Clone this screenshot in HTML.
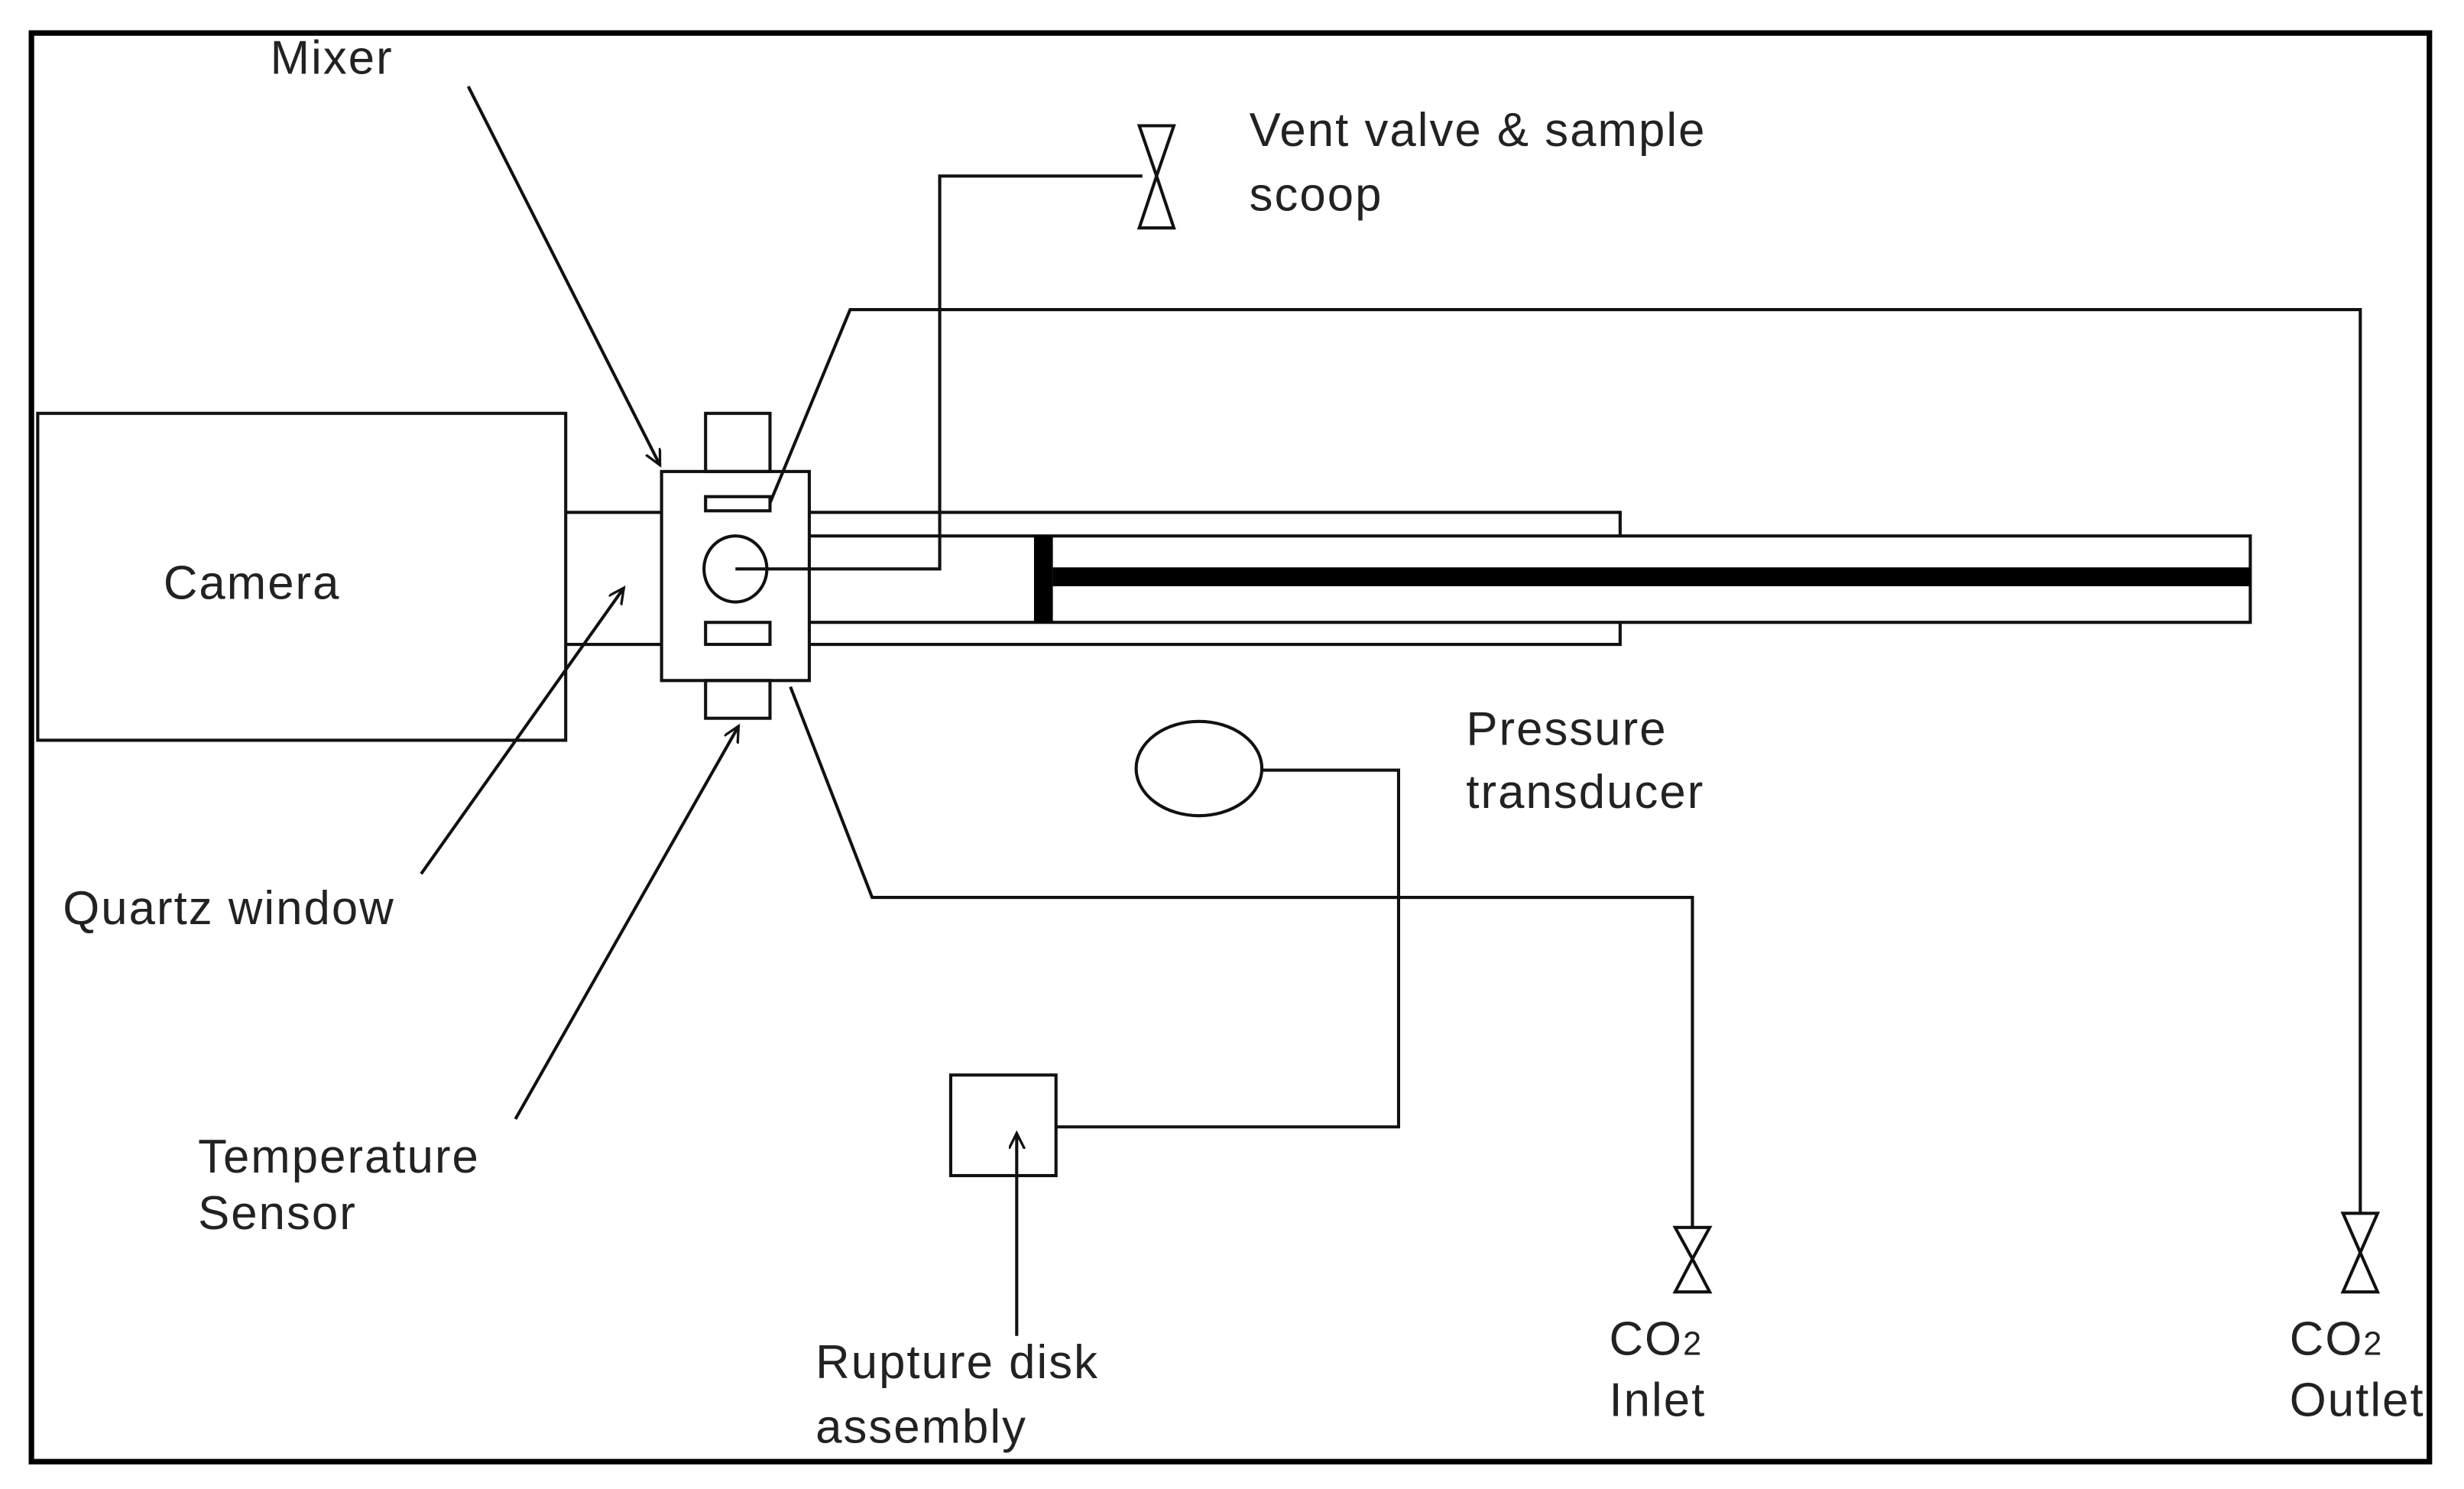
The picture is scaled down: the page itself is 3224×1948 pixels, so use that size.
<!DOCTYPE html>
<html><head><meta charset="utf-8"><style>
html,body{margin:0;padding:0;background:#fff;}
svg{display:block;}
text{font-family:"Liberation Sans",Arial,sans-serif;font-size:30px;letter-spacing:1px;fill:#222;}
</style></head><body>
<svg width="3224" height="1948" viewBox="0 0 1568 947.4" xmlns="http://www.w3.org/2000/svg">
<defs>
<marker id="ah" markerWidth="12" markerHeight="12" refX="10" refY="5" orient="auto" markerUnits="userSpaceOnUse">
<path d="M0,0 L10,5 L0,10" fill="none" stroke="#111" stroke-width="1.6"/>
</marker>
</defs>
<rect x="0" y="0" width="1568" height="947.4" fill="#fff"/>
<rect x="20" y="21" width="1526" height="909" fill="none" stroke="#000" stroke-width="3.5"/>
<g fill="none" stroke="#111" stroke-width="2">
<rect x="24" y="263" width="336" height="208"/>
<line x1="360" y1="326" x2="421" y2="326"/>
<line x1="360" y1="410" x2="421" y2="410"/>
<rect x="421" y="300" width="94" height="133"/>
<rect x="449" y="263" width="41" height="37"/>
<rect x="449" y="433" width="41" height="24"/>
<rect x="449" y="316" width="41" height="9"/>
<rect x="449" y="396" width="41" height="14"/>
<ellipse cx="468" cy="362" rx="20" ry="21"/>
<polyline points="515,326 1031,326 1031,341"/>
<polyline points="515,410 1031,410 1031,396"/>
<polyline points="515,341 1432,341 1432,396 515,396"/>
<polyline points="468,362 598,362 598,112 727,112"/>
<path d="M725,80 L747,80 L736,112 Z M736,112 L747,145 L725,145 Z"/>
<polyline points="490,320 541,197 1502,197 1502,772"/>
<path d="M1491,772 L1513,772 L1502,797 Z M1502,797 L1513,822 L1491,822 Z"/>
<polyline points="503,437 555,571 1077,571 1077,781"/>
<path d="M1066,781 L1088,781 L1077,801 Z M1077,801 L1088,822 L1066,822 Z"/>
<ellipse cx="763" cy="489" rx="40" ry="30"/>
<polyline points="803,490 890,490 890,717 672,717"/>
<rect x="605" y="684" width="67" height="64"/>
<line x1="647" y1="850" x2="647" y2="721" marker-end="url(#ah)"/>
<line x1="298" y1="55" x2="420" y2="296" marker-end="url(#ah)"/>
<line x1="268" y1="556" x2="397" y2="374" marker-end="url(#ah)"/>
<line x1="328" y1="712" x2="470" y2="462" marker-end="url(#ah)"/>
</g>
<rect x="658" y="341" width="12" height="55" fill="#000"/>
<rect x="670" y="361" width="762" height="12" fill="#000"/>
<text x="172" y="47">Mixer</text>
<text x="795" y="93">Vent valve &amp; sample</text>
<text x="795" y="134">scoop</text>
<text x="104" y="381">Camera</text>
<text x="40" y="588">Quartz window</text>
<text x="126" y="746">Temperature</text>
<text x="126" y="782">Sensor</text>
<text x="933" y="474">Pressure</text>
<text x="933" y="514">transducer</text>
<text x="519" y="877">Rupture disk</text>
<text x="519" y="918">assembly</text>
<text x="1024" y="862">CO<tspan font-size="21">2</tspan></text>
<text x="1024" y="901">Inlet</text>
<text x="1457" y="862">CO<tspan font-size="21">2</tspan></text>
<text x="1457" y="901">Outlet</text>
</svg>
</body></html>
